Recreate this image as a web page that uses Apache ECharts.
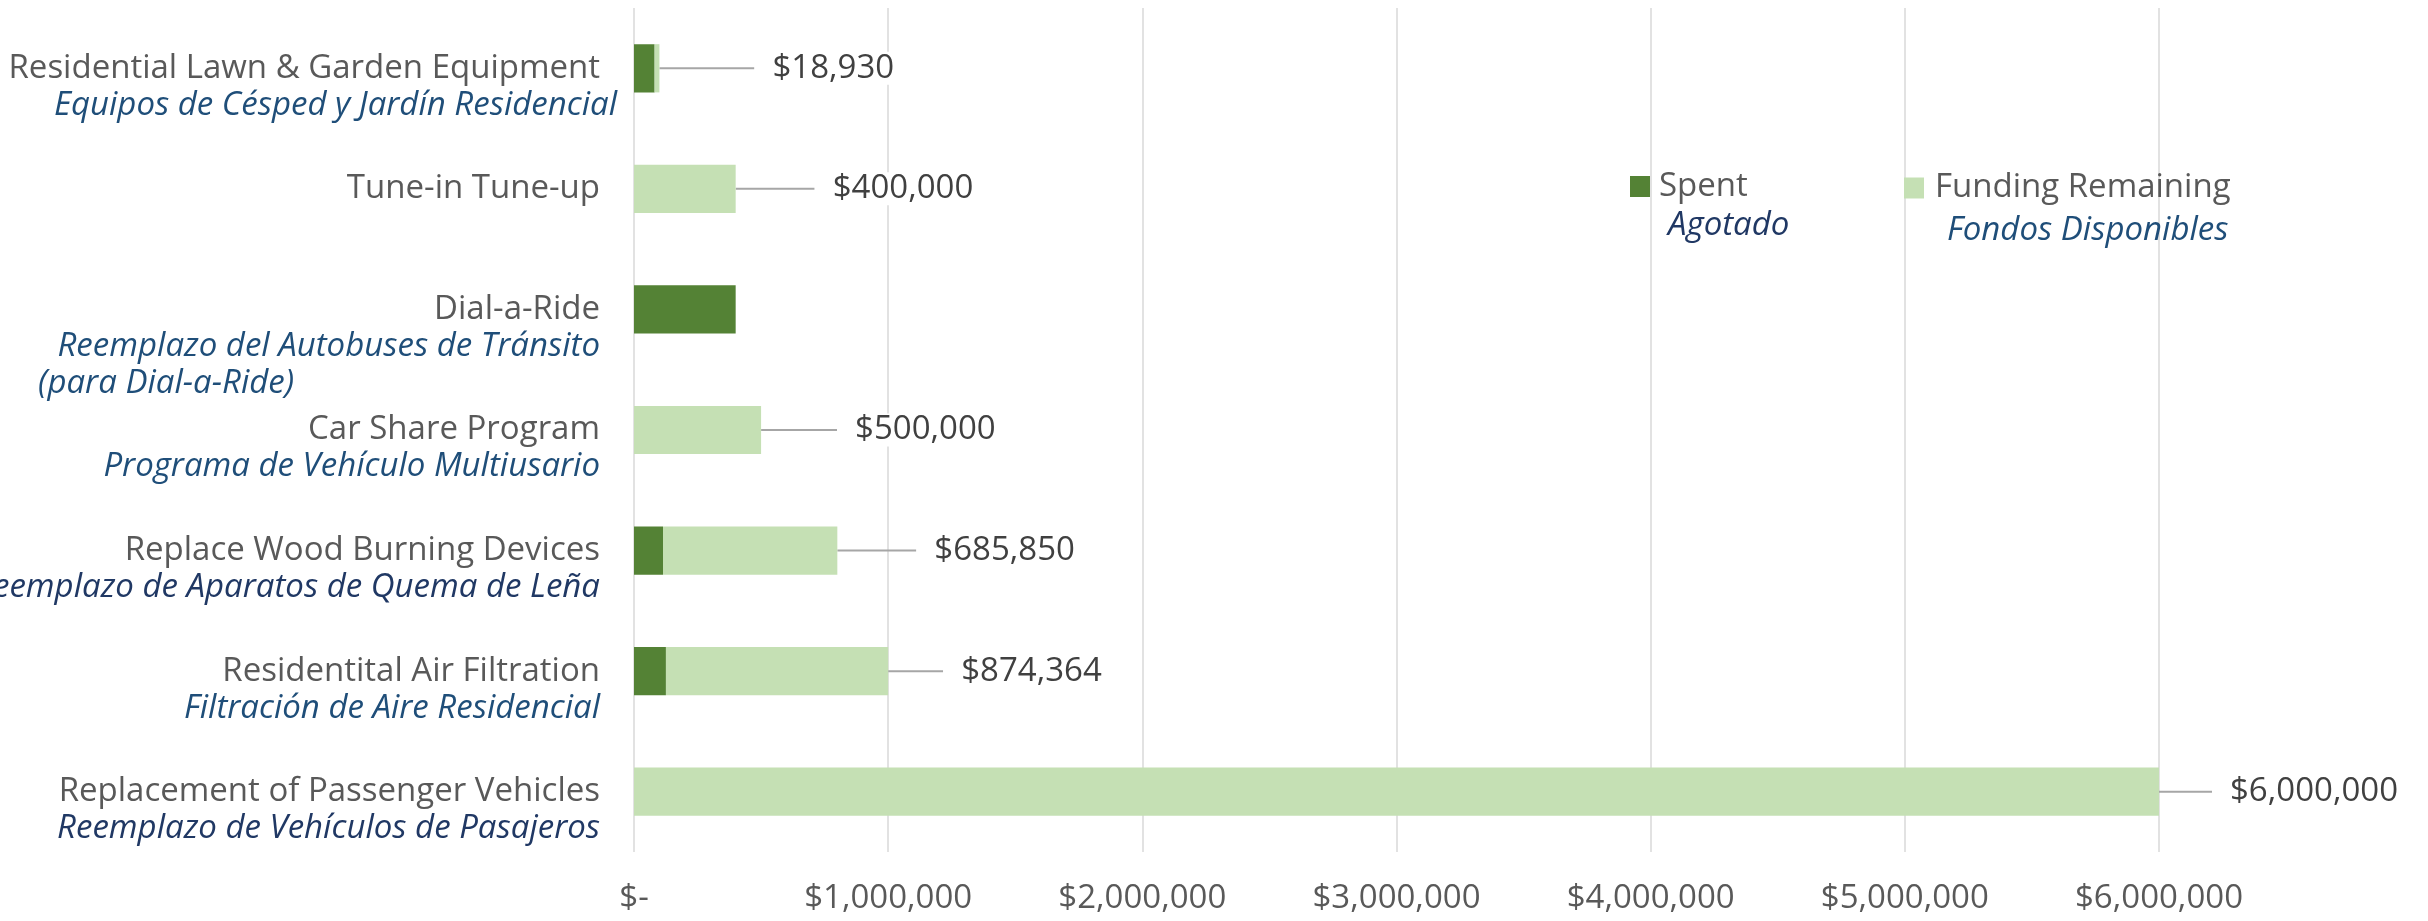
<!DOCTYPE html>
<html>
<head>
<meta charset="utf-8">
<script src="https://cdn.jsdelivr.net/npm/echarts@6/dist/echarts.min.js"></script>
<style>
html,body{margin:0;padding:0;background:#fff;}
#chart{width:2428px;height:921px;}
</style>
</head>
<body>
<div id="chart"></div>
<script>
// ---- data ----
const categories = ['Residential Lawn & Garden Equipment', 'Tune-in Tune-up', 'Dial-a-Ride', 'Car Share Program', 'Replace Wood Burning Devices', 'Residentital Air Filtration', 'Replacement of Passenger Vehicles'];
const categoriesEs = ['Equipos de Césped y Jardín Residencial', '', 'Reemplazo del Autobuses de Tránsito', 'Programa de Vehículo Multiusario', 'Reemplazo de Aparatos de Quema de Leña', 'Filtración de Aire Residencial', 'Reemplazo de Vehículos de Pasajeros'];
const categoriesEsExtra = ['', '', '(para Dial-a-Ride)', '', '', '', ''];
const spent = [81070, 0, 400000, 0, 114150, 125636, 0];
const remaining = [18930, 400000, 0, 500000, 685850, 874364, 6000000];
const xTicks = [0, 1000000, 2000000, 3000000, 4000000, 5000000, 6000000];
const seriesNames = ['Spent', 'Funding Remaining'];
const seriesNamesEs = ['Agotado', 'Fondos Disponibles'];

// ---- styles ----
const FONT = '"Open Sans", Lato, sans-serif';
const FS = 33;
const esColor = ['#1F4E79', '#1F4E79', '#1F4E79', '#1F4E79', '#203864', '#1F4E79', '#203864'];
const labelOffsets = [95, 79, 0, 76, 79, 55, 53];
const LH = 37;

function money(v) {
  if (v === 0) return '$-';
  return '$' + v.toLocaleString('en-US');
}

const chart = echarts.init(document.getElementById('chart'));

const rich = {
  b1: {lineHeight: LH, fontSize: FS, fontFamily: FONT},
  b2: {lineHeight: LH * 2, fontSize: FS, fontFamily: FONT},
  en: {color: '#595959', fontSize: FS, lineHeight: LH, fontFamily: FONT, padding: [0, 17, 0, 0]},
  esb: {color: '#1F4E79', fontSize: FS, lineHeight: LH, fontFamily: FONT, fontStyle: 'italic', padding: [0, 17, 0, 0]},
  esbw: {color: '#1F4E79', fontSize: FS, lineHeight: LH, fontFamily: FONT, fontStyle: 'italic'},
  esn: {color: '#203864', fontSize: FS, lineHeight: LH, fontFamily: FONT, fontStyle: 'italic', padding: [0, 17, 0, 0]},
  esx: {color: '#1F4E79', fontSize: FS, lineHeight: LH, fontFamily: FONT, fontStyle: 'italic', width: 579, align: 'left'}
};

function catLabel(value, index) {
  const es = categoriesEs[index];
  const ex = categoriesEsExtra[index];
  if (!es) return '{en|' + value + '}';
  const esKey = index === 0 ? 'esbw' : (esColor[index] === '#203864' ? 'esn' : 'esb');
  if (ex) {
    return '{b2| }\n{en|' + value + '}\n{' + esKey + '|' + es + '}\n{esx|' + ex + '}';
  }
  return '{b1| }\n{en|' + value + '}\n{' + esKey + '|' + es + '}';
}

function legendCfg(i, left, top, enPad, esPad, esLH, esCol) {
  return {
    data: [seriesNames[i]],
    left: left,
    top: top,
    padding: 0,
    orient: 'horizontal',
    icon: 'rect',
    itemWidth: 20,
    itemHeight: 21,
    selectedMode: false,
    formatter: function (name) {
      return '{b| }\n{en|' + name + '}\n{es|' + seriesNamesEs[i] + '}';
    },
    textStyle: {
      rich: {
        b: {lineHeight: esLH, fontSize: FS, fontFamily: FONT},
        en: {color: '#595959', fontSize: FS, lineHeight: 39, fontFamily: FONT, padding: [0, 0, 0, enPad]},
        es: {color: esCol, fontSize: FS, lineHeight: esLH, fontFamily: FONT, fontStyle: 'italic', padding: [0, 0, 0, esPad]}
      }
    }
  };
}

const option = {
  backgroundColor: '#ffffff',
  animation: false,
  grid: {left: 634, right: 269, top: 8, bottom: 69, containLabel: false, outerBoundsMode: 'none'},
  legend: [
    legendCfg(0, 1630, 131, 4, 13, 39, '#203864'),
    legendCfg(1, 1904, 129, 6, 18, 46, '#1F4E79')
  ],
  xAxis: {
    type: 'value',
    min: xTicks[0],
    max: xTicks[xTicks.length - 1],
    interval: xTicks[1] - xTicks[0],
    axisLine: {show: false},
    axisTick: {show: false},
    splitLine: {show: true, lineStyle: {color: '#D9D9D9', width: 1.5}},
    axisLabel: {
      margin: 30,
      color: '#595959',
      fontSize: FS,
      fontFamily: FONT,
      formatter: money
    }
  },
  yAxis: {
    type: 'category',
    data: categories,
    inverse: true,
    axisLine: {show: false},
    axisTick: {show: false},
    splitLine: {show: false},
    axisLabel: {
      margin: 17,
      align: 'right',
      formatter: catLabel,
      rich: rich
    }
  },
  series: [
    {
      name: seriesNames[0],
      type: 'bar',
      stack: 'total',
      data: spent,
      barCategoryGap: '60%',
      itemStyle: {color: '#548235'}
    },
    {
      name: seriesNames[1],
      type: 'bar',
      stack: 'total',
      data: remaining,
      barCategoryGap: '60%',
      itemStyle: {color: '#C5E0B4'},
      label: {
        show: true,
        position: 'right',
        distance: 0,
        padding: [0, 0, 0, 18],
        backgroundColor: '#ffffff',
        color: '#404040',
        fontSize: FS,
        fontFamily: FONT,
        formatter: function (p) { return p.value ? money(p.value) : ''; }
      },
      labelLine: {show: true, lineStyle: {color: '#A6A6A6', width: 2}},
      labelLayout: function (params) {
        return {dx: labelOffsets[params.dataIndex]};
      }
    }
  ]
};

chart.setOption(option);
</script>
</body>
</html>
